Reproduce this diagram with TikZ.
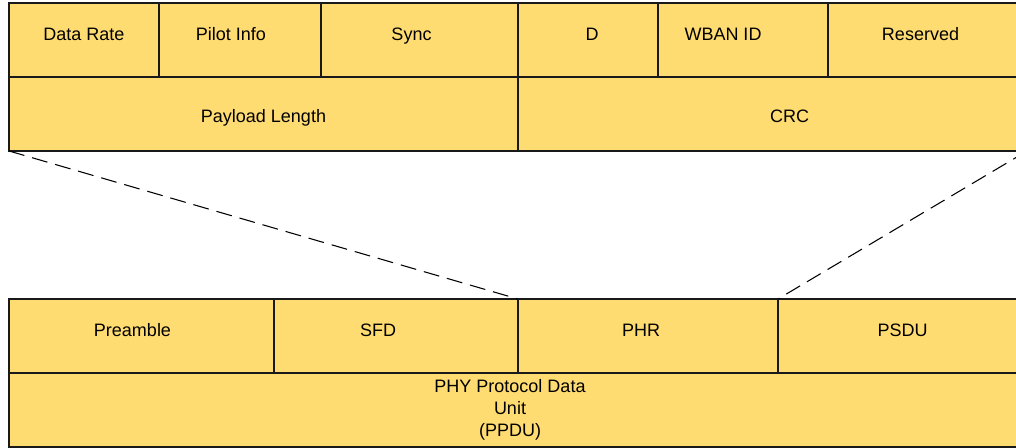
\documentclass[tikz,border=0pt]{standalone}
\usepackage{fontspec}
\setmainfont{Liberation Sans}
\usepackage{xcolor}
\definecolor{cellyellow}{HTML}{FFDC71}
\usepackage{tikz}
\usetikzlibrary{positioning}
\newdimen\px \px=0.75pt

\begin{document}
\begin{tikzpicture}[x=0.75pt,y=-0.75pt,
  cell/.style={draw=black!90, fill=cellyellow, line width=1pt, inner sep=0pt, outer sep=0pt,
    minimum height=74\px, font=\fontsize{13.5}{16.5}\selectfont},
  raised/.style={text height=9.7pt, text depth=9pt},
  lowered/.style={text height=12.7pt, text depth=0pt},
  nudge/.style={execute at end node={\hspace*{#1}}},
  zoomline/.style={line width=0.8pt, dash pattern=on 12pt off 6pt}]
\useasboundingbox (0,0) rectangle (1016,448);

% header fields
\node[cell, raised, anchor=north west, minimum width=150\px] (datarate) at (9,3) {Data Rate};
\node[cell, raised, right=0pt of datarate, minimum width=162\px, nudge=18\px] (pilot) {Pilot Info};
\node[cell, raised, right=0pt of pilot, minimum width=197\px, nudge=16\px] (sync) {Sync};
\node[cell, raised, right=0pt of sync, minimum width=140\px, nudge=-8\px] (d) {D};
\node[cell, raised, right=0pt of d, minimum width=170\px, nudge=40\px] (wban) {WBAN ID};
\node[cell, raised, right=0pt of wban, minimum width=199\px, nudge=14\px] (reserved) {Reserved};
\node[cell, lowered, anchor=north west, minimum width=509\px] (payload) at (datarate.south west) {Payload Length};
\node[cell, lowered, right=0pt of payload, minimum width=509\px, nudge=-34\px] (crc) {CRC};

% frame
\node[cell, raised, anchor=north west, minimum width=265\px, nudge=18\px] (preamble) at (9,299) {Preamble};
\node[cell, raised, right=0pt of preamble, minimum width=244\px, nudge=36\px] (sfd) {SFD};
\node[cell, raised, right=0pt of sfd, minimum width=260\px, nudge=14\px] (phr) {PHR};
\node[cell, raised, right=0pt of phr, minimum width=249\px] (psdu) {PSDU};
\node[cell, anchor=north west, minimum width=1018\px, align=center] (ppdu) at (preamble.south west)
  {\hspace*{-16\px}PHY Protocol Data\\\hspace*{-16\px}Unit\\\hspace*{-16\px}(PPDU)};

% zoom lines
\draw[zoomline] (payload.south west) -- (phr.north west);
\draw[zoomline] (crc.south east) -- (psdu.north west);
\end{tikzpicture}
\end{document}
